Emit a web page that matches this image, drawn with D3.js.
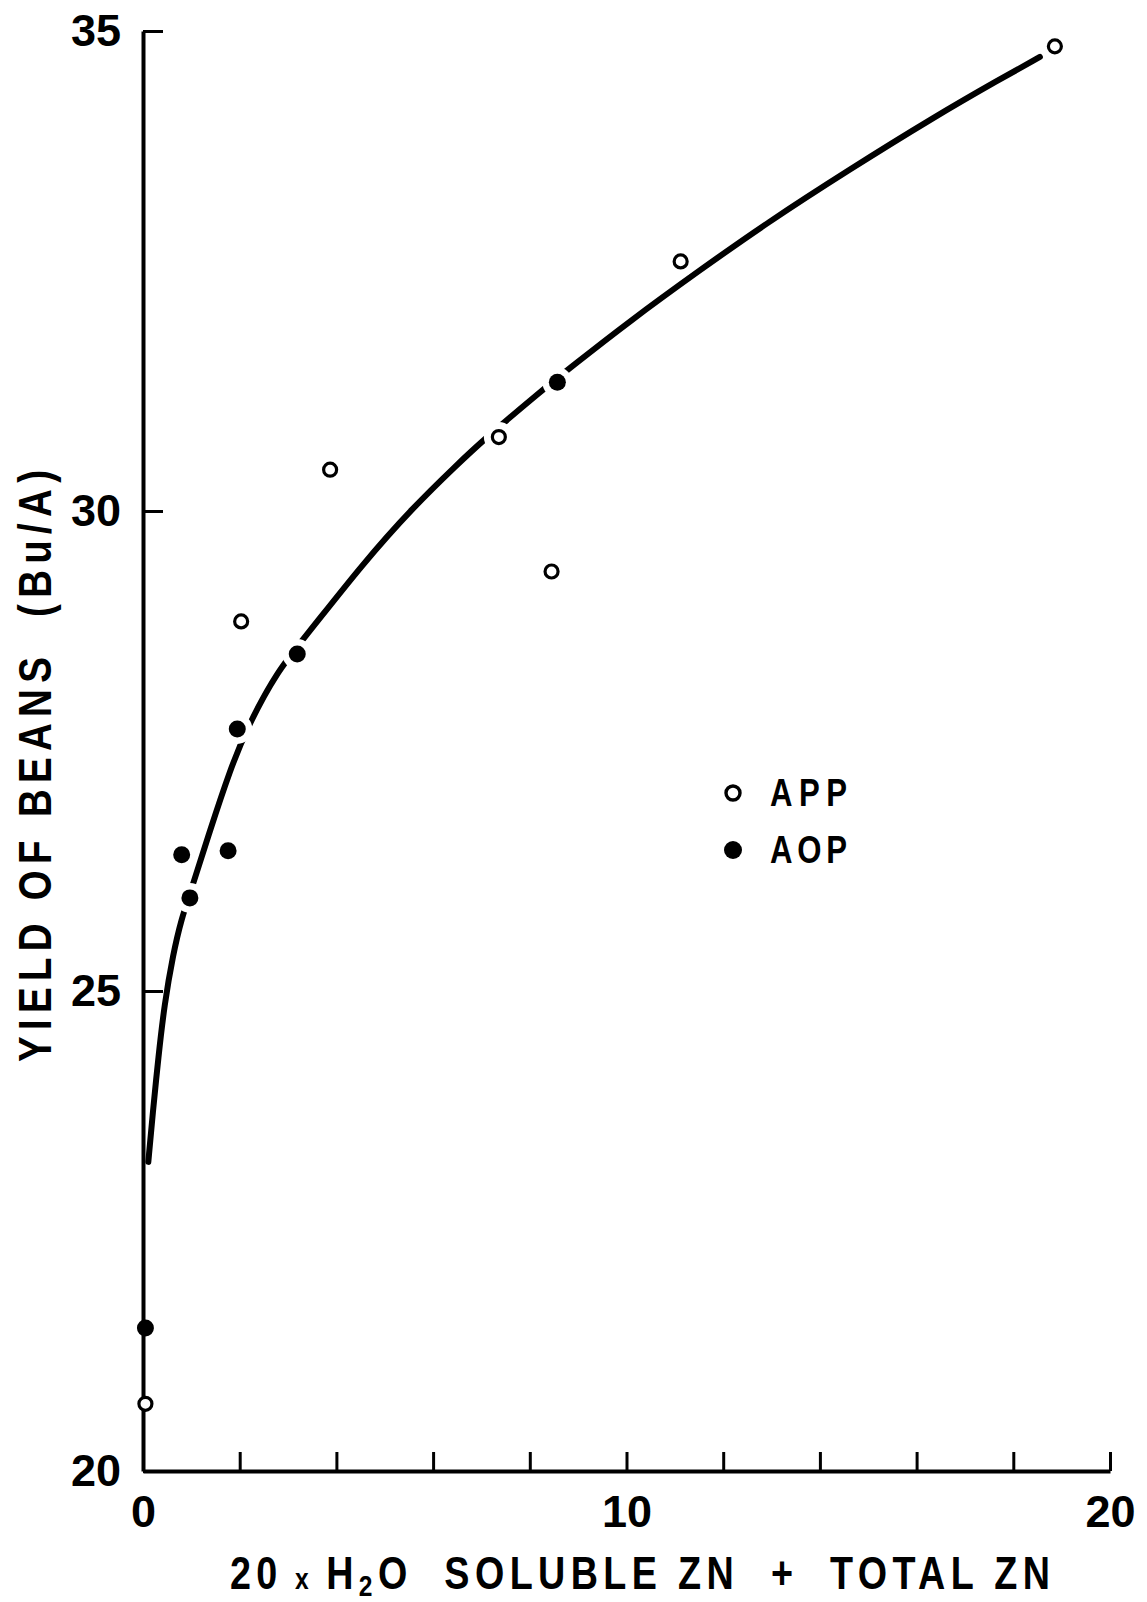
<!DOCTYPE html>
<html>
<head>
<meta charset="utf-8">
<script src="https://d3js.org/d3.v7.min.js"></script>
<style>
  body { margin: 0; background: #fff; }
  svg text { font-family: "Liberation Sans", Arial, sans-serif; font-weight: bold; fill: #000; }
</style>
</head>
<body>
<div id="chart"></div>
<script>
// APP (open circles)
const appX = [0.05, 2.03, 3.87, 7.36, 8.45, 11.12, 18.86];
const appY = [20.70, 28.85, 30.43, 30.77, 29.37, 32.60, 34.84];
// AOP (filled circles)
const aopX = [0.05, 0.80, 0.97, 1.76, 1.95, 3.19, 8.57];
const aopY = [21.49, 26.42, 25.97, 26.46, 27.73, 28.51, 31.34];
// hand drawn curve
const curveX = [0.11, 0.20, 0.32, 0.44, 0.62, 0.80, 0.97, 1.39, 1.80, 2.14, 2.77, 3.39, 4.56, 5.59, 6.49, 7.04, 8.21, 8.83, 10.07, 11.52, 12.90, 14.62, 16.35, 17.73, 18.55];
const curveY = [23.22, 23.72, 24.32, 24.85, 25.38, 25.76, 26.01, 26.68, 27.30, 27.73, 28.33, 28.71, 29.46, 30.04, 30.48, 30.74, 31.24, 31.49, 31.98, 32.51, 33.00, 33.56, 34.10, 34.50, 34.73];

const xTicks = [0, 2, 4, 6, 8, 10, 12, 14, 16, 18, 20];
const xLabels = [0, 10, 20];
const yTicks = [20, 25, 30, 35];
const legendNames = ["APP", "AOP"];

const width = 1147, height = 1602;
const squeeze = 0.82; // lettering is narrow and widely spaced

const svg = d3.select("#chart").append("svg")
    .attr("width", width)
    .attr("height", height);

const x = d3.scaleLinear().domain([0, 20]).range([143, 1110]);
const y = d3.scaleLinear().domain([20, 35]).range([1471, 31]);

const app = appX.map((v, i) => ({x: v, y: appY[i]}));
const aop = aopX.map((v, i) => ({x: v, y: aopY[i]}));
const curve = curveX.map((v, i) => [v, curveY[i]]);

// curve
const line = d3.line()
    .x(d => x(d[0]))
    .y(d => y(d[1]))
    .curve(d3.curveBasis);

svg.append("path")
    .attr("d", line(curve))
    .attr("fill", "none")
    .attr("stroke", "#000")
    .attr("stroke-width", 6)
    .attr("stroke-linecap", "round");

// white gaps around the points where the curve stops
svg.append("g").selectAll("circle")
    .data(app.concat(aop))
    .enter()
    .append("circle")
    .attr("cx", d => x(d.x))
    .attr("cy", d => y(d.y))
    .attr("r", 15)
    .attr("fill", "#fff");

// axes
const xAxis = d3.axisBottom(x)
    .tickValues(xTicks)
    .tickSizeInner(-19)
    .tickSizeOuter(0)
    .tickPadding(24)
    .tickFormat(d => xLabels.includes(d) ? d : "");

const gx = svg.append("g")
    .attr("transform", `translate(0,${y(20)})`)
    .call(xAxis);

const yAxis = d3.axisLeft(y)
    .tickValues(yTicks)
    .tickSizeInner(-20)
    .tickSizeOuter(0)
    .tickPadding(22);

const gy = svg.append("g")
    .attr("transform", `translate(${x(0)},0)`)
    .call(yAxis);

[gx, gy].forEach(g => {
    g.select(".domain").attr("stroke", "#000").attr("stroke-width", 4);
    g.selectAll(".tick line").attr("stroke", "#000").attr("stroke-width", 3);
    g.selectAll(".tick text")
        .style("font-family", "Liberation Sans, Arial, sans-serif")
        .style("font-weight", "bold")
        .style("font-size", "45px")
        .attr("fill", "#000");
});
gx.selectAll(".tick text").attr("dy", "0.72em");

// points
svg.append("g").selectAll("circle")
    .data(app)
    .enter()
    .append("circle")
    .attr("cx", d => x(d.x))
    .attr("cy", d => y(d.y))
    .attr("r", 6.5)
    .attr("fill", "#fff")
    .attr("stroke", "#000")
    .attr("stroke-width", 3.2);

svg.append("g").selectAll("circle")
    .data(aop)
    .enter()
    .append("circle")
    .attr("cx", d => x(d.x))
    .attr("cy", d => y(d.y))
    .attr("r", 8.5)
    .attr("fill", "#000");

// legend
const legend = svg.append("g").attr("transform", "translate(733,793)");
legendNames.forEach((name, i) => {
    const row = legend.append("g").attr("transform", `translate(0,${i * 57})`);
    if (i === 0) {
        row.append("circle").attr("r", 7).attr("fill", "#fff")
            .attr("stroke", "#000").attr("stroke-width", 3.4);
    } else {
        row.append("circle").attr("r", 9).attr("fill", "#000");
    }
    row.append("text")
        .attr("transform", `translate(37,13) scale(${squeeze},1)`)
        .style("font-size", "38px")
        .attr("textLength", 77 / squeeze)
        .attr("lengthAdjust", "spacing")
        .text(name);
});

// axis titles
svg.append("text")
    .attr("transform", `translate(51,766) rotate(-90) scale(${squeeze},1)`)
    .attr("text-anchor", "middle")
    .style("font-size", "47px")
    .style("white-space", "pre")
    .attr("textLength", 592 / squeeze)
    .attr("lengthAdjust", "spacing")
    .text("YIELD OF BEANS  (Bu/A)");

const xt = svg.append("text")
    .attr("transform", `translate(230,1589) scale(${squeeze},1)`)
    .style("font-size", "46px")
    .style("white-space", "pre")
    .attr("textLength", 820 / squeeze)
    .attr("lengthAdjust", "spacing");
xt.append("tspan").text("20");
xt.append("tspan").style("font-size", "30px").text(" x ");
xt.append("tspan").text("H");
xt.append("tspan").attr("dy", 7).style("font-size", "30px").text("2");
xt.append("tspan").attr("dy", -7).text("O  SOLUBLE ZN  +  TOTAL ZN");
</script>
</body>
</html>
